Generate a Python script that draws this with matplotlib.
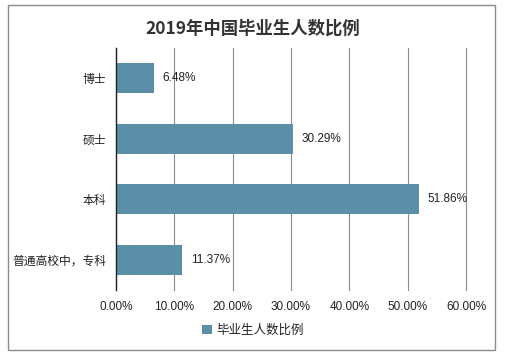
import matplotlib
matplotlib.use('Agg')
from matplotlib import pyplot as plt
from matplotlib.patches import Rectangle
from matplotlib.ticker import FuncFormatter

plt.rcParams['font.family'] = ['Noto Sans CJK SC', 'DejaVu Sans']

categories = ['博士', '硕士', '本科', '普通高校中，专科']
values = [6.48, 30.29, 51.86, 11.37]
series_name = '毕业生人数比例'
title = '2019年中国毕业生人数比例'

bar_color = '#5b8fa8'

fig = plt.figure(figsize=(5.06, 3.59), dpi=100)
ax = fig.add_axes([0.229, 0.192, 0.692, 0.674])

ypos = list(range(len(categories)))[::-1]
bars = ax.barh(ypos, values, height=0.5, color=bar_color, label=series_name, zorder=3)
for b, v in zip(bars, values):
    ax.text(v + 1.5, b.get_y() + b.get_height() / 2, '%.2f%%' % v,
            va='center', ha='left', fontsize=8.5, color='#222222', family='Liberation Sans')

ax.set_xlim(0, 60)
ax.set_ylim(-0.5, len(categories) - 0.5)
ax.set_yticks(ypos)
ax.set_yticklabels(categories, fontsize=8.5, color='#222222')
ax.set_xticks(range(0, 61, 10))
ax.xaxis.set_major_formatter(FuncFormatter(lambda x, p: '%.2f%%' % x))
for lbl in ax.get_xticklabels():
    lbl.set_fontfamily('Liberation Sans')
ax.tick_params(axis='x', labelsize=8.5, colors='#222222', length=0, pad=8)
ax.tick_params(axis='y', length=0, pad=7)
ax.grid(axis='x', color='#8c8c8c', linewidth=0.8, zorder=0)
for gl in ax.get_xgridlines():
    gl.set_clip_on(False)
for s in ['top', 'right', 'bottom']:
    ax.spines[s].set_visible(False)
ax.spines['left'].set_color('#222222')
ax.spines['left'].set_linewidth(1.0)
ax.spines['left'].set_zorder(4)

fig.text(0.5, 0.92, title, ha='center', va='center', fontsize=12.5,
         fontweight='bold', color='#333333')

fig.legend(loc='center', bbox_to_anchor=(0.5, 0.08), frameon=False,
           fontsize=9, handlelength=0.8, handleheight=0.8, handletextpad=0.3,
           labelcolor='#222222')

fig.patches.append(Rectangle((8 / 506, 1 - 350 / 359), 487 / 506, 345 / 359,
                             transform=fig.transFigure, fill=False,
                             edgecolor='#8c8c8c', linewidth=1.0))

fig.savefig('out.png', dpi=100)
